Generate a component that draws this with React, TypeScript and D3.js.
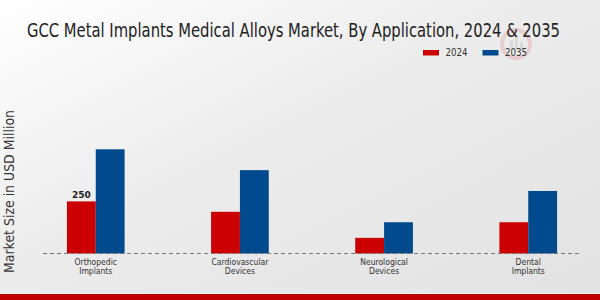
import React from "react";
import * as d3 from "d3";

// chart data
const categories = ["Orthopedic Implants", "Cardiovascular Devices", "Neurological Devices", "Dental Implants"];
const categoryLines = [["Orthopedic", "Implants"], ["Cardiovascular", "Devices"], ["Neurological", "Devices"], ["Dental", "Implants"]];
const years = ["2024", "2035"];
const values2024 = [250, 200, 75, 150];
const values2035 = [500, 400, 150, 300];
const colors = ["#cc0000", "#004a8d"];

const W = 600;
const H = 300;
const baseY = 253.5;
const condensed = { fontFamily: "DejaVu Sans", fontStretch: "condensed" } as React.CSSProperties;

const App = () => {
  const x = d3.scaleBand<string>().domain(categories).range([43, 581]).paddingInner(0.6).paddingOuter(0.166);
  const sub = d3.scaleBand<string>().domain(years).range([0, x.bandwidth()]);
  // 250 -> 52px
  const y = d3.scaleLinear().domain([0, 500]).range([baseY, baseY - 104.2]);
  const series = [values2024, values2035];

  return (
    <svg width={W} height={H} style={{ display: "block", position: "absolute", left: 0, top: 0 }}>
      <defs>
        <linearGradient id="bg" x1="0" y1="0" x2="1" y2="1">
          <stop offset="0" stopColor="#ffffff" />
          <stop offset="0.45" stopColor="#ececec" />
          <stop offset="1" stopColor="#e2e2e2" />
        </linearGradient>
      </defs>
      <rect x={0} y={0} width={W} height={H} fill="url(#bg)" />

      {/* faint watermark */}
      <g opacity={0.12} transform="translate(516,44)">
        <circle r={14} fill="none" stroke="#cc0000" strokeWidth={4} />
        <rect x={-6} y={-4} width={3} height={10} fill="#666" />
        <rect x={-1} y={-9} width={3} height={15} fill="#666" />
        <rect x={4} y={-2} width={3} height={8} fill="#666" />
      </g>

      <text x={27} y={37} style={condensed} fontSize={20} fill="#222" textLength={533} lengthAdjust="spacingAndGlyphs">
        GCC Metal Implants Medical Alloys Market, By Application, 2024 &amp; 2035
      </text>

      {/* legend */}
      {years.map((yr, i) => (
        <g key={yr} transform={`translate(${423 + i * 59.5},50)`}>
          <rect x={0} y={0} width={16} height={5.5} fill={colors[i]} />
          <text x={22.5} y={5.8} style={condensed} fontSize={11} fill="#333" textLength={22} lengthAdjust="spacingAndGlyphs">{yr}</text>
        </g>
      ))}

      <text
        transform={`translate(14,273) rotate(-90)`}
        fontFamily="DejaVu Sans"
        fontSize={13.5}
        fill="#333"
        textLength={163}
        lengthAdjust="spacingAndGlyphs"
      >
        Market Size in USD Million
      </text>

      {/* bars */}
      {categories.map((c, ci) => (
        <g key={c} transform={`translate(${x(c)},0)`}>
          {series.map((vals, si) => (
            <rect
              key={si}
              x={sub(years[si])}
              y={y(vals[ci])}
              width={sub.bandwidth()}
              height={baseY - y(vals[ci])}
              fill={colors[si]}
            />
          ))}
        </g>
      ))}

      {/* value label on first bar */}
      <text
        x={(x(categories[0]) ?? 0) + (sub(years[0]) ?? 0) + sub.bandwidth() / 2}
        y={y(values2024[0]) - 3}
        textAnchor="middle"
        fontFamily="DejaVu Sans"
        fontWeight="bold"
        fontSize={9}
        fill="#222"
      >
        {values2024[0]}
      </text>

      <line x1={43} x2={581} y1={baseY} y2={baseY} stroke="#777" strokeWidth={1} strokeDasharray="4,3" />

      {/* x labels */}
      {categories.map((c, ci) => (
        <text
          key={c}
          x={(x(c) ?? 0) + x.bandwidth() / 2}
          textAnchor="middle"
          style={condensed}
          fontSize={8.5}
          fill="#333"
        >
          <tspan x={(x(c) ?? 0) + x.bandwidth() / 2} y={264.5}>{categoryLines[ci][0]}</tspan>
          <tspan x={(x(c) ?? 0) + x.bandwidth() / 2} y={274}>{categoryLines[ci][1]}</tspan>
        </text>
      ))}

      {/* bottom strip */}
      <rect x={0} y={293} width={W} height={1} fill="#f4f4f4" />
      <rect x={0} y={294} width={W} height={6} fill="#c00000" />
    </svg>
  );
};

export default App;
